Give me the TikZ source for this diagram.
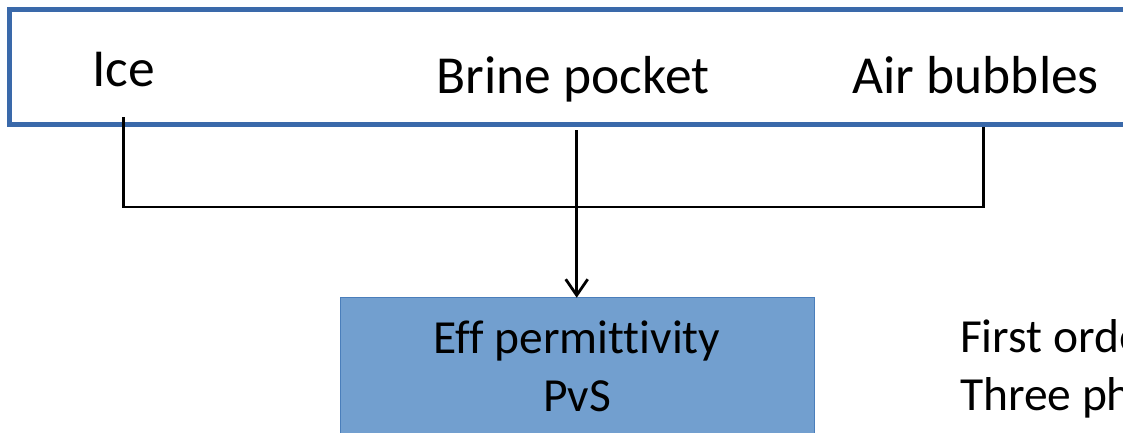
\documentclass[tikz,border=0pt]{standalone}
\usepackage{fontspec}
\setmainfont{Carlito}[Ligatures=NoCommon]
\usetikzlibrary{arrows.meta}
\definecolor{frameblue}{RGB}{58,105,170}
\definecolor{boxfill}{RGB}{114,159,207}
\definecolor{boxedge}{RGB}{74,126,187}
\tikzset{
  wire/.style={line width=2.8pt, draw=black},
  label/.style={inner sep=0pt, outer sep=0pt, font=\fontsize{53.5}{64}\selectfont},
  boxlabel/.style={inner sep=0pt, outer sep=0pt, font=\fontsize{47.5}{57}\selectfont},
}
\begin{document}
\begin{tikzpicture}[x=1pt,y=-1pt]
\useasboundingbox (0,0) rectangle (1123,432);
\clip (0,0) rectangle (1123,432);

% outer frame holding the three constituents
\node[draw=frameblue, line width=5pt, fill=white, inner sep=0pt, outer sep=0pt,
      minimum width=1131pt, minimum height=115pt, anchor=north west] (frame) at (9.5,9) {};

\node[label, anchor=base west] (ice) at (92,86) {Ice};
\node[label, anchor=base] (brine) at (573,93) {Brine pocket};
\node[label, anchor=base west] (air) at (852.7,93.3) {Air bubbles};

% model box
\node[draw=boxedge, line width=1pt, fill=boxfill, inner sep=0pt, outer sep=0pt,
      minimum width=474pt, minimum height=200pt, anchor=north west] (model) at (340,297.7) {};
\node[boxlabel, anchor=base] (eff) at (577,353) {Eff permittivity};
\node[boxlabel, anchor=base] (pvs) at (577,411.7) {PvS};

% side notes
\node[boxlabel, anchor=base west] (note1) at (960,352.7) {First orde};
\node[boxlabel, anchor=base west] (note2) at (960,410) {Three ph};

% connectors
\coordinate (iceA) at (123.3,117);
\coordinate (airA) at (983.3,126.5);
\coordinate (brineA) at (576.7,130);
\coordinate (bus) at (0,207);
\draw[wire] (iceA) |- (airA |- bus) -- (airA);
\draw[wire, -{Straight Barb[length=16pt, width=22pt, line width=2.8pt]}]
  (brineA) -- (brineA |- model.north);
\end{tikzpicture}
\end{document}
